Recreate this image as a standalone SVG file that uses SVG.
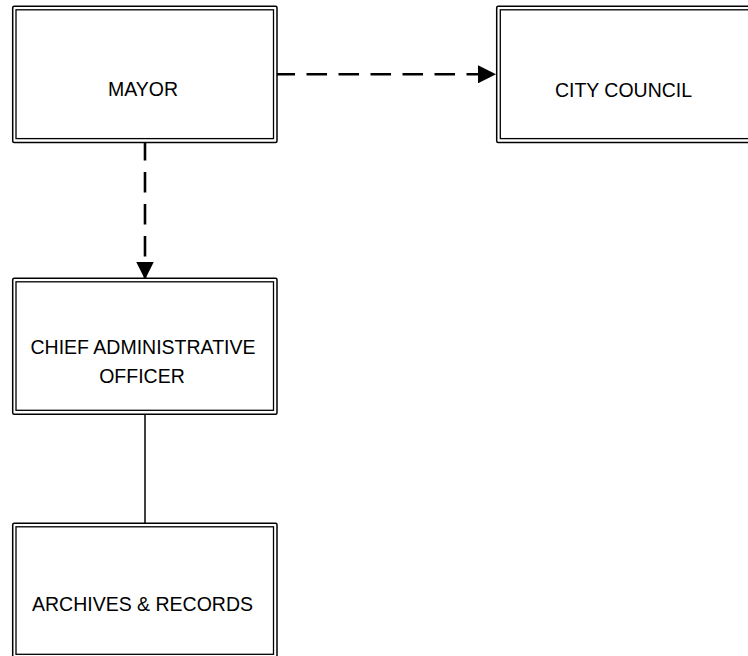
<svg xmlns="http://www.w3.org/2000/svg" width="748" height="656" viewBox="0 0 748 656">
  <style>
    .outer { fill: #ffffff; stroke: #000000; stroke-width: 1.5; }
    .inner { fill: none; stroke: #000000; stroke-width: 1.3; }
    .label { font-family: "Liberation Sans", Arial, sans-serif; font-size: 19.5px; fill: #000000; text-anchor: middle; }
    .dashed { fill: none; stroke: #000000; stroke-width: 2.6; stroke-dasharray: 20.5 11.5; stroke-dashoffset: 2.5; }
    .solid { fill: none; stroke: #000000; stroke-width: 1.5; }
  </style>
  <defs>
    <marker id="arrow" markerUnits="userSpaceOnUse" markerWidth="18" markerHeight="18" viewBox="0 0 18 18" refX="18" refY="9" orient="auto">
      <path d="M0,0 L18,9 L0,18 Z" fill="#000000"/>
    </marker>
  </defs>
  <rect width="748" height="656" fill="#ffffff"/>

  <g id="connectors">
    <line class="dashed" x1="277" y1="74.3" x2="496" y2="74.3" marker-end="url(#arrow)"/>
    <line class="dashed" x1="145" y1="142.5" x2="145" y2="279.5" marker-end="url(#arrow)"/>
    <line class="solid" x1="145" y1="414.3" x2="145" y2="523.3"/>
  </g>

  <g id="mayor">
    <rect class="outer" x="12.7" y="6.2" width="264.3" height="136.3" rx="1.5"/>
    <rect class="inner" x="16" y="9.8" width="257.5" height="128.8"/>
    <text class="label" x="143" y="95.5">MAYOR</text>
  </g>

  <g id="city-council">
    <rect class="outer" x="496.7" y="6.2" width="264.3" height="136.3" rx="1.5"/>
    <rect class="inner" x="500.3" y="9.8" width="257.5" height="128.8"/>
    <text class="label" x="623.5" y="96.5">CITY COUNCIL</text>
  </g>

  <g id="chief-administrative-officer">
    <rect class="outer" x="12.7" y="278.3" width="264.3" height="136" rx="1.5"/>
    <rect class="inner" x="16" y="281.8" width="257.5" height="128.5"/>
    <text class="label" x="143" y="354.3">CHIEF ADMINISTRATIVE</text>
    <text class="label" x="142" y="382.7">OFFICER</text>
  </g>

  <g id="archives-records">
    <rect class="outer" x="12.7" y="523.3" width="264.3" height="136" rx="1.5"/>
    <rect class="inner" x="16" y="526.8" width="257.5" height="127.5"/>
    <text class="label" x="142.5" y="611">ARCHIVES &amp; RECORDS</text>
  </g>
</svg>
